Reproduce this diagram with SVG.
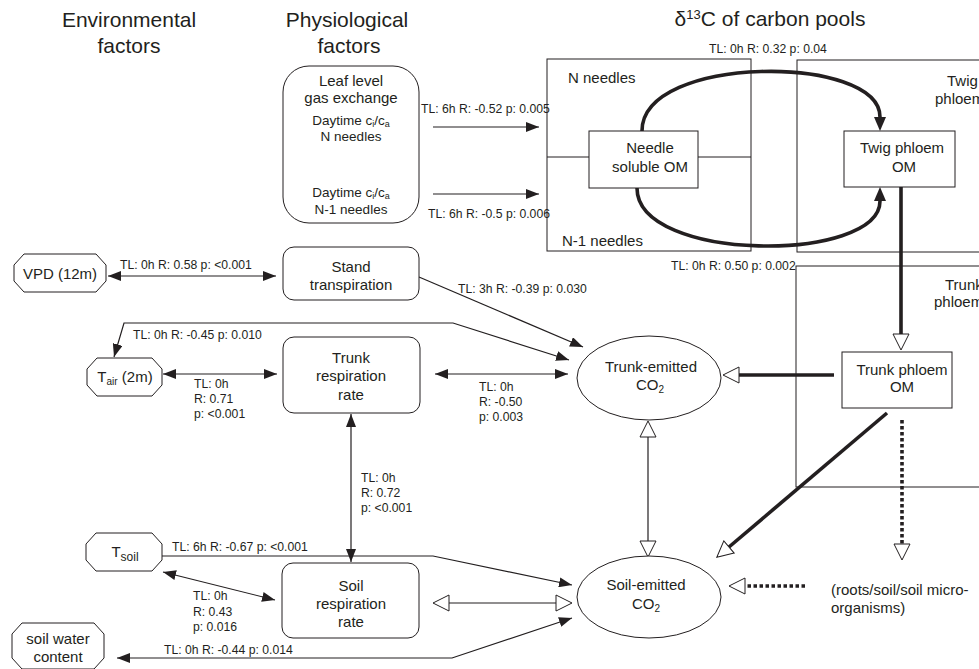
<svg xmlns="http://www.w3.org/2000/svg" width="979" height="669" viewBox="0 0 979 669">
<style>
text{font-family:"Liberation Sans",Arial,sans-serif;fill:#231f20}
.h{font-size:21px;text-anchor:middle}
.n{font-size:15px;text-anchor:middle}
.d{font-size:13.5px;text-anchor:middle}
.l{font-size:12.2px}
.box{fill:#fff;stroke:#231f20;stroke-width:1}
.reg{fill:none;stroke:#231f20;stroke-width:1}
.c{fill:none;stroke:#231f20;stroke-width:1.2}
.t{fill:none;stroke:#231f20;stroke-width:3.6}
.dot{fill:none;stroke:#231f20;stroke-width:3.6;stroke-dasharray:3.5 2.5}
</style>
<defs>
<marker id="fa" markerUnits="userSpaceOnUse" viewBox="0 0 13 10" refX="13" refY="5" markerWidth="13" markerHeight="10" orient="auto-start-reverse"><path d="M0,0 L13,5 L0,10 z" fill="#231f20"/></marker>
<marker id="fb" markerUnits="userSpaceOnUse" viewBox="0 0 14 12" refX="0" refY="6" markerWidth="14" markerHeight="12" orient="auto"><path d="M0,0 L14,6 L0,12 z" fill="#231f20"/></marker>
<marker id="ha" markerUnits="userSpaceOnUse" viewBox="-1 -9 18 18" refX="0" refY="0" markerWidth="18" markerHeight="18" orient="auto-start-reverse"><path d="M0,-8 L16,0 L0,8 z" fill="#fff" stroke="#231f20" stroke-width="1"/></marker>
</defs>

<g id="headers">
<text class="h" x="129" y="27">Environmental</text>
<text class="h" x="129" y="53">factors</text>
<text class="h" x="347" y="27">Physiological</text>
<text class="h" x="349" y="53">factors</text>
<text class="h" x="770" y="26">δ<tspan font-size="13" dy="-7">13</tspan><tspan dy="7">C of carbon pools</tspan></text>
</g>

<g id="regions">
<rect class="reg" x="547" y="59" width="204" height="192"/>
<text class="n" x="568" y="83" style="text-anchor:start">N needles</text>
<text class="n" x="562" y="246" style="text-anchor:start">N-1 needles</text>
<line class="reg" x1="547" y1="157" x2="589" y2="157"/>
<line class="reg" x1="698" y1="157" x2="751" y2="157"/>
<rect class="reg" x="797" y="60" width="200" height="192"/>
<text class="n" x="947" y="86" style="text-anchor:start">Twig</text>
<text class="n" x="935" y="104" style="text-anchor:start">phloem</text>
<rect class="reg" x="796" y="266" width="200" height="221"/>
<text class="n" x="945" y="290" style="text-anchor:start">Trunk</text>
<text class="n" x="934" y="307" style="text-anchor:start">phloem</text>
</g>

<g id="connectors">
<line class="c" x1="433" y1="127" x2="539" y2="127" marker-end="url(#fa)"/>
<line class="c" x1="433" y1="194" x2="539" y2="194" marker-end="url(#fa)"/>
<path class="t" d="M642,131 C642,54 880,54 880,117" marker-end="url(#fb)"/>
<path class="t" d="M637,188 C637,263 880,263 880,201" marker-end="url(#fb)"/>
<line class="t" x1="901" y1="187" x2="901" y2="334" marker-end="url(#ha)"/>
<line class="t" x1="834" y1="375" x2="739" y2="375" marker-end="url(#ha)"/>
<line class="t" x1="887" y1="413" x2="729" y2="547" marker-end="url(#ha)"/>
<line class="dot" x1="902" y1="420" x2="902" y2="544" marker-end="url(#ha)"/>
<line class="dot" x1="805" y1="586" x2="745" y2="586" marker-end="url(#ha)"/>
<line class="c" x1="648" y1="437" x2="648" y2="541" marker-start="url(#ha)" marker-end="url(#ha)"/>
<line class="c" x1="449" y1="603" x2="556" y2="603" marker-start="url(#ha)" marker-end="url(#ha)"/>
<line class="c" x1="108" y1="276" x2="276" y2="276" marker-start="url(#fa)" marker-end="url(#fa)"/>
<polyline class="c" points="569,360 453,323 124,323 114,357" marker-start="url(#fa)" marker-end="url(#fa)"/>
<line class="c" x1="419" y1="277" x2="583" y2="347" marker-end="url(#fa)"/>
<line class="c" x1="163" y1="374" x2="277" y2="374" marker-start="url(#fa)" marker-end="url(#fa)"/>
<line class="c" x1="435" y1="374" x2="568" y2="374" marker-start="url(#fa)" marker-end="url(#fa)"/>
<line class="c" x1="351" y1="414" x2="351" y2="562" marker-start="url(#fa)" marker-end="url(#fa)"/>
<polyline class="c" points="162,556 433,556 572,585" marker-end="url(#fa)"/>
<line class="c" x1="163" y1="572" x2="275" y2="600" marker-start="url(#fa)" marker-end="url(#fa)"/>
<polyline class="c" points="572,618 452,658 117,658" marker-start="url(#fa)" marker-end="url(#fa)"/>
</g>

<g id="labels">
<text class="l" x="421" y="113">TL: 6h R: -0.52 p: 0.005</text>
<text class="l" x="428" y="218">TL: 6h R: -0.5 p: 0.006</text>
<text class="l" x="709" y="53">TL: 0h R: 0.32 p: 0.04</text>
<text class="l" x="120" y="269">TL: 0h R: 0.58 p: &lt;0.001</text>
<text class="l" x="133" y="339">TL: 0h R: -0.45 p: 0.010</text>
<text class="l" x="458" y="293">TL: 3h R: -0.39 p: 0.030</text>
<text class="l" x="671" y="270">TL: 0h R: 0.50 p: 0.002</text>
<text class="l" x="194" y="388">TL: 0h</text>
<text class="l" x="194" y="403">R: 0.71</text>
<text class="l" x="194" y="418">p: &lt;0.001</text>
<text class="l" x="479" y="391">TL: 0h</text>
<text class="l" x="479" y="406">R: -0.50</text>
<text class="l" x="479" y="421">p: 0.003</text>
<text class="l" x="361" y="482">TL: 0h</text>
<text class="l" x="361" y="497">R: 0.72</text>
<text class="l" x="361" y="512">p: &lt;0.001</text>
<text class="l" x="172" y="551">TL: 6h R: -0.67 p: &lt;0.001</text>
<text class="l" x="193" y="600">TL: 0h</text>
<text class="l" x="193" y="616">R: 0.43</text>
<text class="l" x="193" y="631">p: 0.016</text>
<text class="l" x="164" y="654">TL: 0h R: -0.44 p: 0.014</text>
</g>

<g id="leaf">
<rect class="box" x="283" y="66" width="136" height="157" rx="26"/>
<text class="n" x="351" y="86">Leaf level</text>
<text class="n" x="351" y="103">gas exchange</text>
<text class="d" x="351" y="125">Daytime c<tspan font-size="9" dy="2">i</tspan><tspan dy="-2">/c</tspan><tspan font-size="9" dy="2">a</tspan></text>
<text class="d" x="351" y="141">N needles</text>
<text class="d" x="351" y="197">Daytime c<tspan font-size="9" dy="2">i</tspan><tspan dy="-2">/c</tspan><tspan font-size="9" dy="2">a</tspan></text>
<text class="d" x="351" y="214">N-1 needles</text>
</g>

<g id="needle">
<rect class="box" x="589" y="131" width="109" height="57"/>
<text class="n" x="650" y="153">Needle</text>
<text class="n" x="650" y="172">soluble OM</text>
</g>

<g id="twig">
<rect class="box" x="844" y="131" width="111" height="56"/>
<text class="n" x="902" y="153">Twig phloem</text>
<text class="n" x="904" y="172">OM</text>
</g>

<g id="trunkphloem">
<rect class="box" x="842" y="352" width="110" height="56"/>
<text class="n" x="902" y="375">Trunk phloem</text>
<text class="n" x="902" y="392">OM</text>
</g>

<g id="vpd">
<polygon class="box" points="24,254 96,254 106,265 106,281 96,292 24,292 14,281 14,265"/>
<text class="n" x="60" y="279" font-size="14.5">VPD (12m)</text>
</g>

<g id="tair">
<polygon class="box" points="97,358 152,358 162,369 162,385 152,396 97,396 87,385 87,369"/>
<text class="n" x="125" y="382">T<tspan font-size="10" dy="3">air</tspan><tspan dy="-3"> (2m)</tspan></text>
</g>

<g id="tsoil">
<polygon class="box" points="96,533 152,533 162,544 162,560 152,571 96,571 86,560 86,544"/>
<text class="n" x="125" y="557" font-size="19">T<tspan font-size="12" dy="4">soil</tspan></text>
</g>

<g id="swc">
<polygon class="box" points="22,623 94,623 104,634 104,658 94,669 22,669 12,658 12,634"/>
<text class="n" x="58" y="644">soil water</text>
<text class="n" x="58" y="662">content</text>
</g>

<g id="stand">
<rect class="box" x="283" y="247" width="136" height="53" rx="11"/>
<text class="n" x="351" y="272">Stand</text>
<text class="n" x="351" y="290">transpiration</text>
</g>

<g id="trunkresp">
<rect class="box" x="283" y="337" width="137" height="76" rx="11"/>
<text class="n" x="351" y="363">Trunk</text>
<text class="n" x="351" y="381">respiration</text>
<text class="n" x="351" y="400">rate</text>
</g>

<g id="soilresp">
<rect class="box" x="282" y="563" width="137" height="75" rx="11"/>
<text class="n" x="351" y="591">Soil</text>
<text class="n" x="351" y="609">respiration</text>
<text class="n" x="351" y="627">rate</text>
</g>

<g id="trunkco2">
<ellipse class="box" cx="649" cy="378" rx="72" ry="42"/>
<text class="n" x="651" y="372">Trunk-emitted</text>
<text class="n" x="650" y="390">CO<tspan font-size="10" dy="3">2</tspan></text>
</g>

<g id="soilco2">
<ellipse class="box" cx="649" cy="597" rx="72" ry="41"/>
<text class="n" x="646" y="590">Soil-emitted</text>
<text class="n" x="646" y="609">CO<tspan font-size="10" dy="3">2</tspan></text>
</g>

<g id="roots">
<text class="n" x="831" y="595" style="text-anchor:start">(roots/soil/soil micro-</text>
<text class="n" x="831" y="613" style="text-anchor:start">organisms)</text>
</g>
</svg>
